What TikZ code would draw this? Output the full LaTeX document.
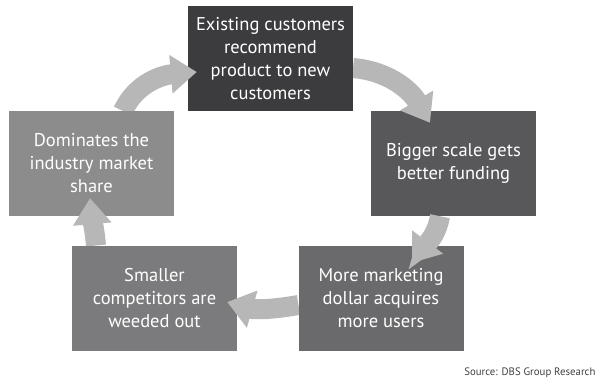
\documentclass[tikz,border=0pt]{standalone}
\usepackage{fontspec}
\setmainfont{PT Sans}
\usetikzlibrary{arrows.meta}

\definecolor{shadeA}{HTML}{3C3C3E}
\definecolor{shadeB}{HTML}{58585A}
\definecolor{shadeC}{HTML}{6A6A6C}
\definecolor{shadeD}{HTML}{7B7B7D}
\definecolor{shadeE}{HTML}{8C8C8C}
\definecolor{loopgray}{HTML}{B7B7B7}

\begin{document}
\begin{tikzpicture}[x=1pt,y=1pt,
    box/.style={minimum width=165pt,minimum height=105pt,inner sep=0pt,
      text=white,align=center,font=\fontsize{18.5}{23}\selectfont},
    loop/.style={draw=loopgray,line width=20pt,
      -{Triangle[width=37pt,length=26pt]}}]

    \useasboundingbox (0,0) rectangle (600,381);

    % Bigger scale
    \node[box,fill=shadeB] (scale) at (453.5,217.5) {Bigger scale gets\\better funding};
    \coordinate (tipB) at ([xshift=-23.5pt,yshift=-12pt]scale.north);
    \coordinate (startB) at (353,313);
    \draw[loop] (startB) to[out=-5,in=121] (tipB);

    % Existing customers
    \node[box,fill=shadeA] (exist) at (270.5,322.5) {Existing customers\\recommend\\product to new\\customers};
    \coordinate (tipA) at ([xshift=9pt,yshift=-13.5pt]exist.west);
    \coordinate (startA) at (123,270);
    \draw[loop] (startA) to[out=65,in=185] (tipA);

    % Dominates the market
    \node[box,fill=shadeE] (share) at (91.5,217.5) {Dominates the\\industry market\\share};
    \coordinate (tipE) at ([xshift=-1.5pt,yshift=18pt]share.south);
    \coordinate (startE) at (96,135.5);
    \draw[loop] (startE) to[out=95,in=-85] (tipE);

    % Smaller competitors
    \node[box,fill=shadeD] (weed) at (154.5,83) {Smaller\\competitors are\\weeded out};
    \coordinate (tipD) at ([xshift=-10pt,yshift=-4pt]weed.east);
    \coordinate (startD) at (298.5,76);
    \draw[loop] (startD) to[out=190,in=-16] (tipD);

    % More marketing dollar
    \node[box,fill=shadeC] (market) at (381,83) {More marketing\\dollar acquires\\more users};
    \coordinate (tipC) at ([xshift=31pt,yshift=-17.5pt]market.north);
    \draw[loop] ([xshift=-13.5pt]scale.south) to[out=-100,in=53] (tipC);

    % Source
    \node[anchor=base east,text=black!75,font=\fontsize{10.8}{12}\selectfont] (src) at (599,6) {Source: DBS Group Research};

\end{tikzpicture}
\end{document}
